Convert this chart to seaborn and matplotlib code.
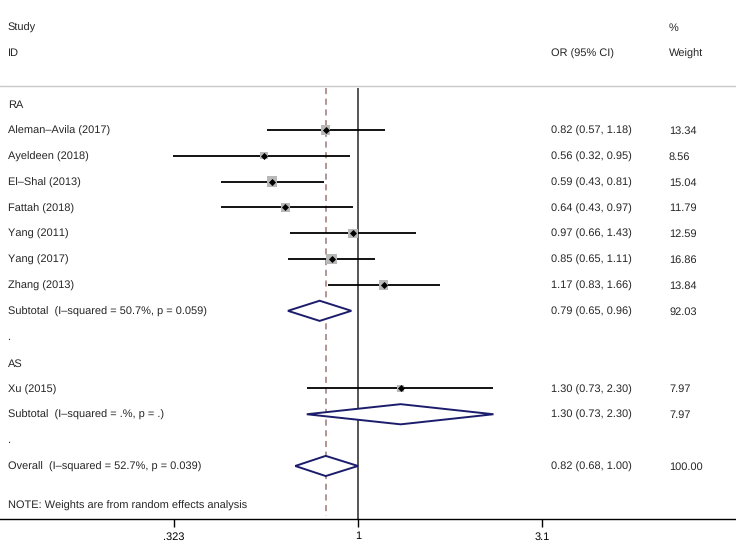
import matplotlib
matplotlib.use("Agg")
import matplotlib.pyplot as plt
import matplotlib.transforms as mtransforms
import seaborn as sns
import pandas as pd

# study level data
groups = ["RA", "AS"]
ra_studies = ["Aleman–Avila (2017)", "Ayeldeen (2018)", "El–Shal (2013)", "Fattah (2018)",
              "Yang (2011)", "Yang (2017)", "Zhang (2013)"]
ra_or = [0.82, 0.56, 0.59, 0.64, 0.97, 0.85, 1.17]
ra_lo = [0.57, 0.32, 0.43, 0.43, 0.66, 0.65, 0.83]
ra_hi = [1.18, 0.95, 0.81, 0.97, 1.43, 1.11, 1.66]
ra_weight = [13.34, 8.56, 15.04, 11.79, 12.59, 16.86, 13.84]

as_studies = ["Xu (2015)"]
as_or = [1.30]
as_lo = [0.73]
as_hi = [2.30]
as_weight = [7.97]

# pooled estimates: RA subtotal, AS subtotal, overall
pooled_labels = ["Subtotal  (I–squared = 50.7%, p = 0.059)",
                 "Subtotal  (I–squared = .%, p = .)",
                 "Overall  (I–squared = 52.7%, p = 0.039)"]
pooled_or = [0.79, 1.30, 0.82]
pooled_lo = [0.65, 0.73, 0.68]
pooled_hi = [0.96, 2.30, 1.00]
pooled_weight = [92.03, 7.97, 100.00]

xticks = [0.323, 1, 3.1]
xtick_labels = [".323", "1", "3.1"]

# row layout
ra_rows = list(range(1, 8))
as_rows = [11]
pooled_rows = [8, 12, 14]

studies = pd.DataFrame({
    "study": ra_studies + as_studies,
    "or": ra_or + as_or,
    "lo": ra_lo + as_lo,
    "hi": ra_hi + as_hi,
    "weight": ra_weight + as_weight,
    "row": ra_rows + as_rows,
})

sns.set_style("white")
plt.rcParams["font.family"] = ["Liberation Sans", "DejaVu Sans"]
plt.rcParams["text.hinting"] = "no_hinting"
plt.rcParams["text.hinting_factor"] = 1
fs = 7.6

fig = plt.figure(figsize=(7.36, 5.44), dpi=100)
ax = fig.add_axes([0, 0.046, 1, 0.954])
ax.set_xscale("log")
ax.set_xlim(0.1107, 10.217)
ax.set_ylim(16.05, -4.02)

# reference lines
ax.vlines(1, -0.6, 16.05, color="#555555", lw=1.4, zorder=1)
ax.vlines(pooled_or[2], -0.6, 15.95, color="#a07878", lw=1.1,
          linestyles=(0, (4, 3)), zorder=1)
ax.axhline(-0.7, color="#c8c8c8", lw=1)

# confidence intervals
ax.hlines(studies["row"], studies["lo"], studies["hi"], color="black", lw=1.3, zorder=2)

# weight boxes and point estimates
sns.scatterplot(data=studies, x="or", y="row", size="weight", sizes=(0, 60),
                size_norm=(0, 16.86), marker="s", color="#b8b8b8", linewidth=0,
                legend=False, ax=ax, zorder=3)
sns.scatterplot(data=studies, x="or", y="row", marker="D", color="black", s=13,
                linewidth=0, legend=False, ax=ax, zorder=4)

# pooled diamonds
for r, est, lo, hi in zip(pooled_rows, pooled_or, pooled_lo, pooled_hi):
    ax.fill([lo, est, hi, est, lo], [r, r - 0.39, r, r + 0.39, r],
            facecolor="white", edgecolor="#1c1c6c", lw=1.4, zorder=3)

# text columns
tr = mtransforms.blended_transform_factory(ax.transAxes, ax.transData)
x_id, x_ci, x_w = 8 / 736, 551 / 736, 669 / 736
kw = dict(transform=tr, va="center", ha="left", fontsize=fs)

ax.text(x_id, -2.95, "Study", **kw)
ax.text(x_id, -1.95, "ID", **kw)
ax.text(x_ci, -1.95, "OR (95% CI)", **kw)
ax.text(x_w, -2.95, "%", **kw)
ax.text(x_w, -1.95, "Weight", **kw)

ax.text(x_id, 0.04, groups[0], **kw)
ax.text(x_id, 10.04, groups[1], **kw)
ax.text(x_id, 9, ".", **kw)
ax.text(x_id, 13, ".", **kw)

for _, s in studies.iterrows():
    ax.text(x_id, s["row"] + 0.04, s["study"], **kw)
    ax.text(x_ci, s["row"] + 0.04, f"{s['or']:.2f} ({s['lo']:.2f}, {s['hi']:.2f})", **kw)
    ax.text(x_w, s["row"] + 0.04, f"{s['weight']:.2f}", **kw)

for r, lab, est, lo, hi, w in zip(pooled_rows, pooled_labels, pooled_or,
                                  pooled_lo, pooled_hi, pooled_weight):
    ax.text(x_id, r + 0.04, lab, **kw)
    ax.text(x_ci, r + 0.04, f"{est:.2f} ({lo:.2f}, {hi:.2f})", **kw)
    ax.text(x_w, r + 0.04, f"{w:.2f}", **kw)

ax.text(x_id, 15.55, "NOTE: Weights are from random effects analysis", **kw)

# axis styling
ax.set_xticks(xticks)
ax.set_xticklabels(xtick_labels)
ax.xaxis.set_minor_locator(matplotlib.ticker.NullLocator())
ax.set_yticks([])
ax.set_xlabel("")
ax.set_ylabel("")
for side in ["left", "right", "top"]:
    ax.spines[side].set_visible(False)
ax.spines["bottom"].set_color("black")
ax.spines["bottom"].set_linewidth(1)
ax.tick_params(axis="x", direction="out", length=6, width=1, pad=3,
               labelsize=fs, colors="black", bottom=True)

fig.savefig("out.png", dpi=100)
